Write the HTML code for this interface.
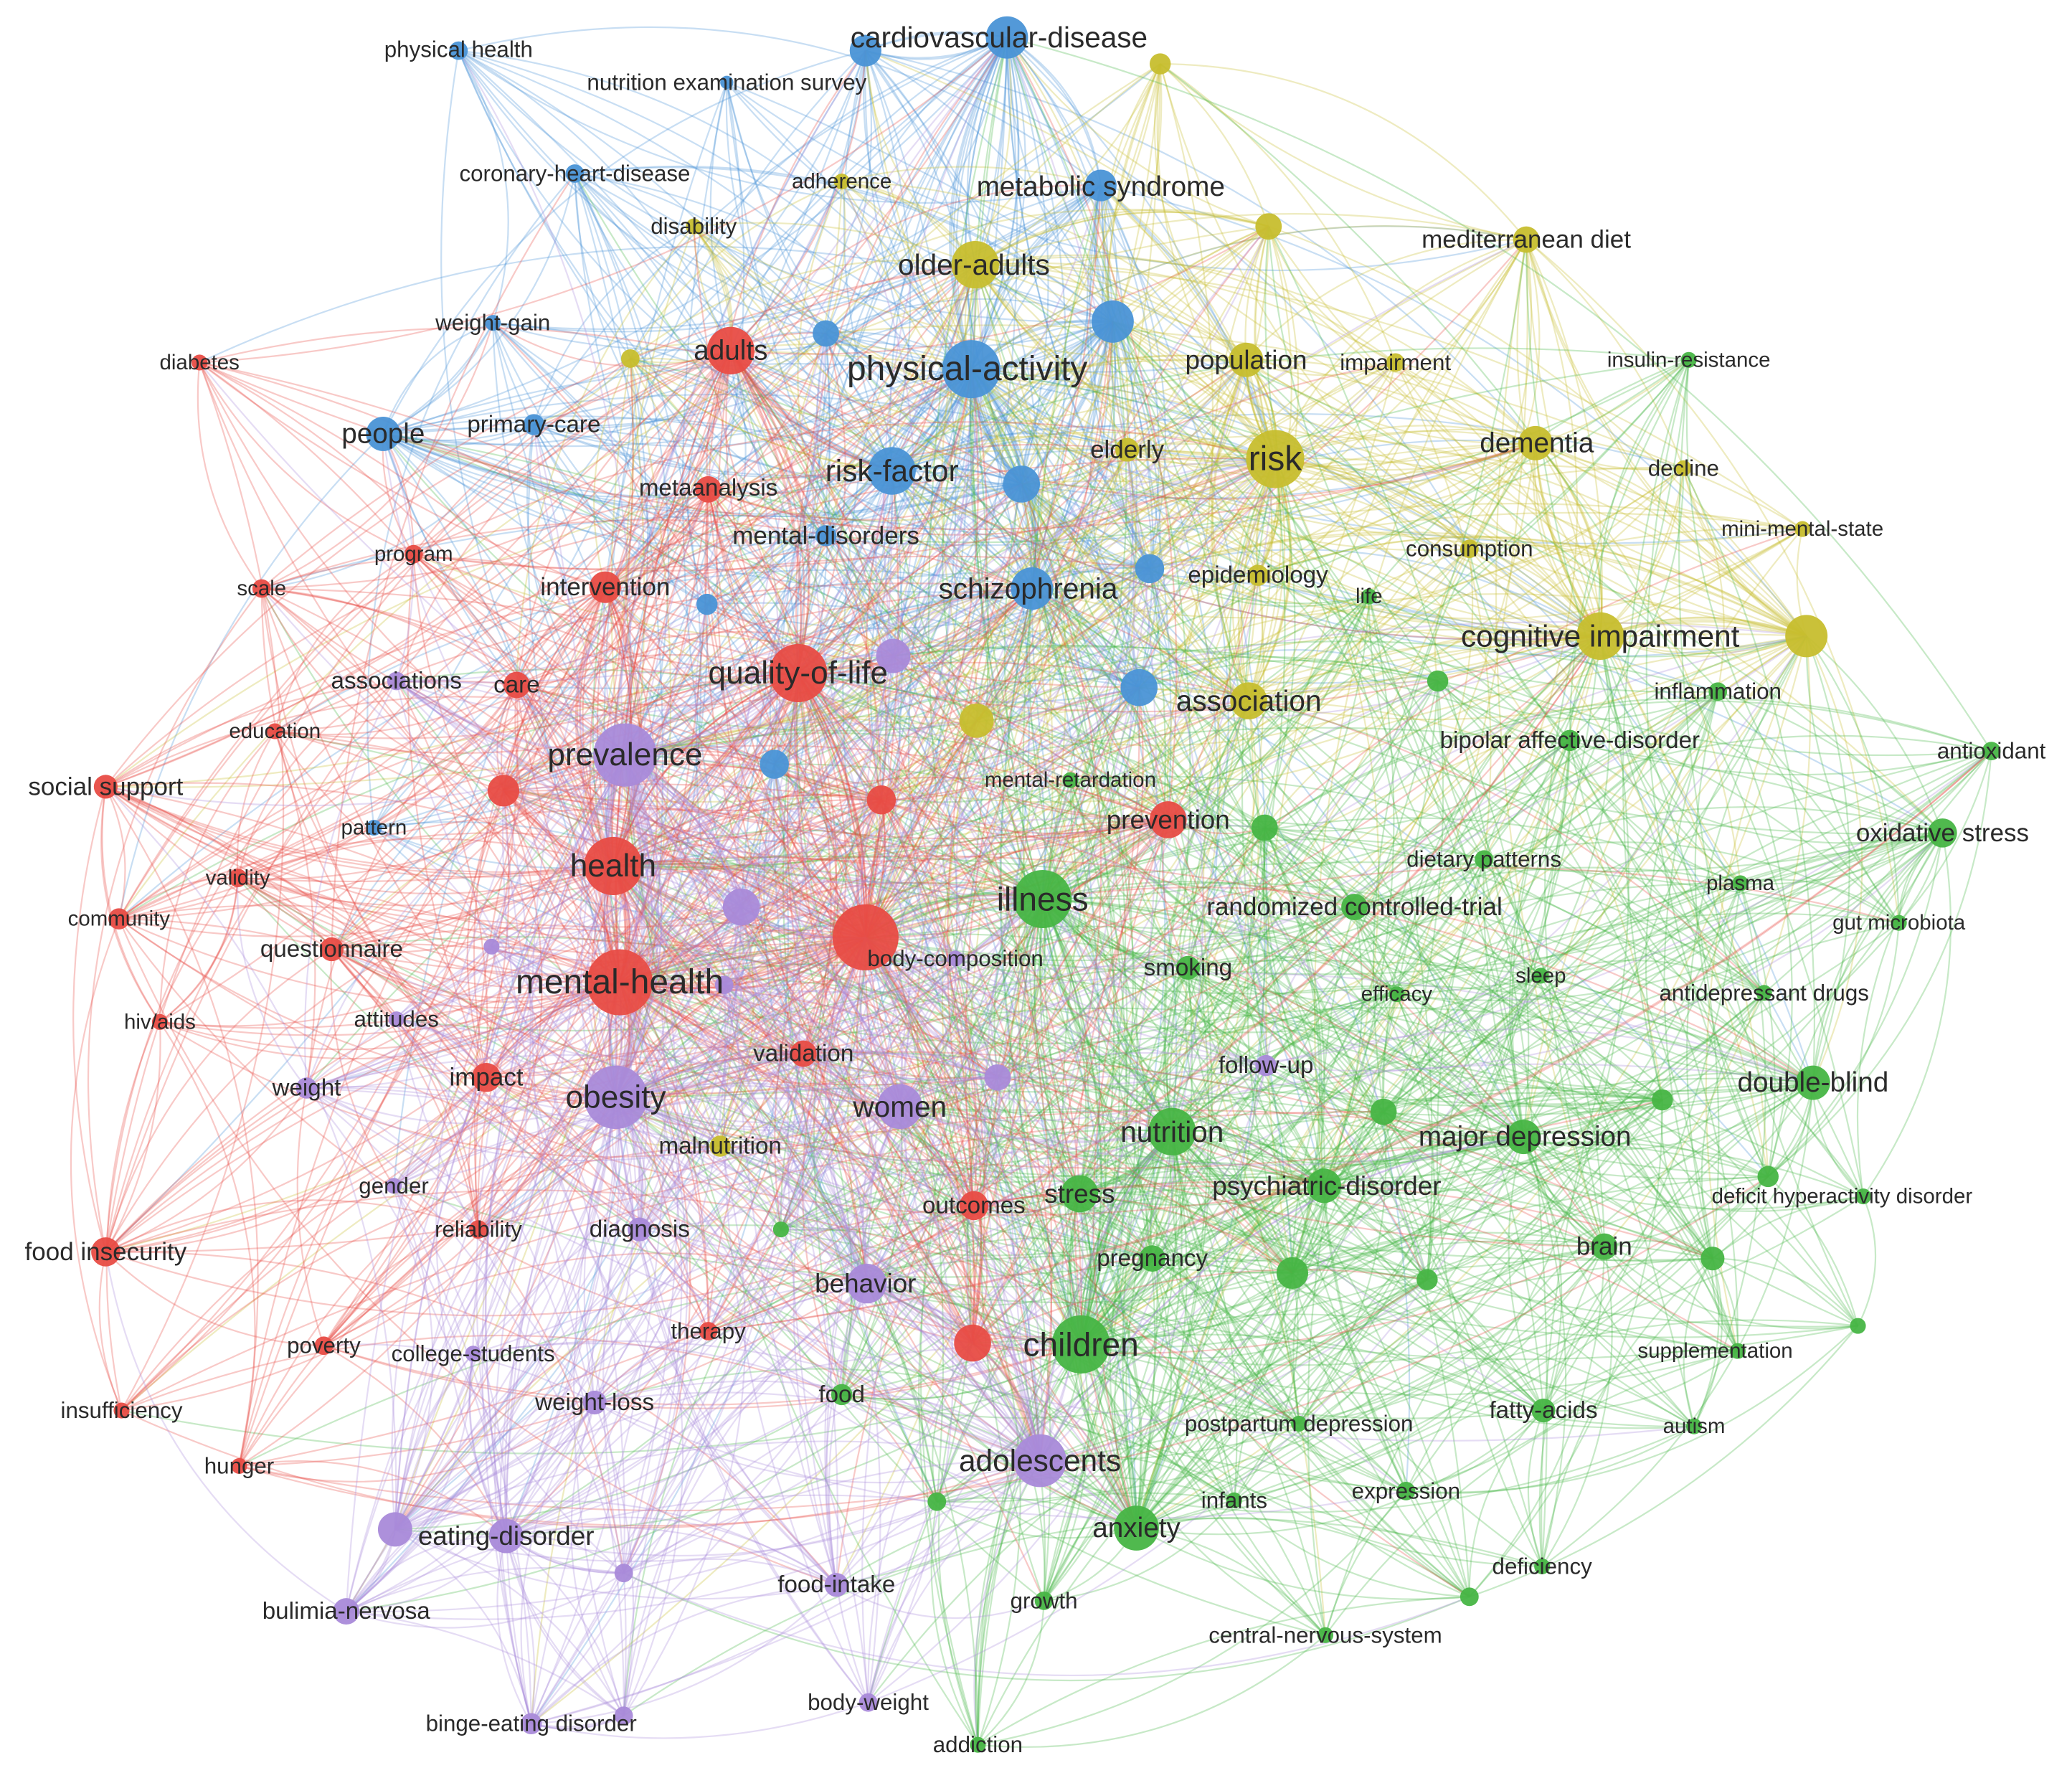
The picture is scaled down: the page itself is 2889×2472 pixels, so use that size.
<!DOCTYPE html>
<html><head><meta charset="utf-8">
<style>
html,body{margin:0;padding:0;background:#fff;}
svg{display:block;}
text{font-family:"Liberation Sans","DejaVu Sans",sans-serif;fill:#2a2a2a;text-anchor:middle;dominant-baseline:central;}
</style></head>
<body>
<svg id="s" width="2889" height="2472" viewBox="0 0 1568 1341" xmlns="http://www.w3.org/2000/svg">
<rect width="1568" height="1341" fill="#fff"/>
<g id="e" fill="none"></g>
<g id="n"></g>
<g id="t">
<text x="756" y="28" font-size="22">cardiovascular-disease</text>
<text x="347" y="37" font-size="17">physical health</text>
<text x="550" y="62" font-size="17">nutrition examination survey</text>
<text x="435" y="131" font-size="17">coronary-heart-disease</text>
<text x="833" y="141" font-size="21">metabolic syndrome</text>
<text x="373" y="244" font-size="17">weight-gain</text>
<text x="290" y="328" font-size="21">people</text>
<text x="404" y="321" font-size="18">primary-care</text>
<text x="732" y="279" font-size="26">physical-activity</text>
<text x="675" y="356" font-size="23">risk-factor</text>
<text x="625" y="405" font-size="19">mental-disorders</text>
<text x="778" y="445" font-size="22">schizophrenia</text>
<text x="283" y="626" font-size="16">pattern</text>
<text x="637" y="137" font-size="16">adherence</text>
<text x="525" y="171" font-size="17">disability</text>
<text x="737" y="200" font-size="22">older-adults</text>
<text x="1155" y="181" font-size="19">mediterranean diet</text>
<text x="943" y="272" font-size="20">population</text>
<text x="1056" y="274" font-size="17">impairment</text>
<text x="965" y="347" font-size="26">risk</text>
<text x="1163" y="335" font-size="21">dementia</text>
<text x="1274" y="354" font-size="17">decline</text>
<text x="853" y="340" font-size="19">elderly</text>
<text x="1364" y="400" font-size="16">mini-mental-state</text>
<text x="1112" y="415" font-size="17">consumption</text>
<text x="952" y="435" font-size="18">epidemiology</text>
<text x="1211" y="481" font-size="23">cognitive impairment</text>
<text x="945" y="530" font-size="22">association</text>
<text x="545" y="867" font-size="18">malnutrition</text>
<text x="1278" y="272" font-size="16">insulin-resistance</text>
<text x="1036" y="451" font-size="16">life</text>
<text x="1300" y="523" font-size="17">inflammation</text>
<text x="1188" y="560" font-size="18">bipolar affective-disorder</text>
<text x="1507" y="568" font-size="17">antioxidant</text>
<text x="810" y="590" font-size="16">mental-retardation</text>
<text x="1470" y="630" font-size="19">oxidative stress</text>
<text x="1123" y="650" font-size="17">dietary patterns</text>
<text x="1317" y="668" font-size="16">plasma</text>
<text x="789" y="680" font-size="25">illness</text>
<text x="1025" y="686" font-size="19">randomized controlled-trial</text>
<text x="1437" y="698" font-size="16">gut microbiota</text>
<text x="899" y="732" font-size="18">smoking</text>
<text x="1166" y="738" font-size="16">sleep</text>
<text x="1057" y="752" font-size="16">efficacy</text>
<text x="1335" y="751" font-size="17">antidepressant drugs</text>
<text x="1372" y="819" font-size="21">double-blind</text>
<text x="887" y="856" font-size="22">nutrition</text>
<text x="1154" y="860" font-size="21">major depression</text>
<text x="1004" y="897" font-size="20">psychiatric-disorder</text>
<text x="817" y="903" font-size="20">stress</text>
<text x="1394" y="905" font-size="16">deficit hyperactivity disorder</text>
<text x="1214" y="943" font-size="19">brain</text>
<text x="872" y="952" font-size="18">pregnancy</text>
<text x="818" y="1017" font-size="25">children</text>
<text x="1298" y="1022" font-size="16">supplementation</text>
<text x="637" y="1055" font-size="18">food</text>
<text x="983" y="1077" font-size="17">postpartum depression</text>
<text x="1168" y="1067" font-size="18">fatty-acids</text>
<text x="1282" y="1079" font-size="16">autism</text>
<text x="1064" y="1128" font-size="17">expression</text>
<text x="934" y="1135" font-size="17">infants</text>
<text x="860" y="1156" font-size="21">anxiety</text>
<text x="1167" y="1185" font-size="17">deficiency</text>
<text x="790" y="1211" font-size="17">growth</text>
<text x="1003" y="1237" font-size="17">central-nervous-system</text>
<text x="740" y="1320" font-size="17">addiction</text>
<text x="151" y="274" font-size="16">diabetes</text>
<text x="553" y="265" font-size="21">adults</text>
<text x="536" y="369" font-size="18">metaanalysis</text>
<text x="313" y="419" font-size="16">program</text>
<text x="198" y="445" font-size="16">scale</text>
<text x="458" y="444" font-size="19">intervention</text>
<text x="391" y="518" font-size="18">care</text>
<text x="604" y="509" font-size="24">quality-of-life</text>
<text x="208" y="553" font-size="16">education</text>
<text x="80" y="595" font-size="19">social support</text>
<text x="884" y="620" font-size="20">prevention</text>
<text x="180" y="664" font-size="16">validity</text>
<text x="464" y="655" font-size="24">health</text>
<text x="90" y="695" font-size="16">community</text>
<text x="723" y="725" font-size="17">body-composition</text>
<text x="251" y="718" font-size="18">questionnaire</text>
<text x="469" y="743" font-size="26">mental-health</text>
<text x="121" y="773" font-size="16">hiv/aids</text>
<text x="608" y="797" font-size="18">validation</text>
<text x="368" y="815" font-size="19">impact</text>
<text x="737" y="912" font-size="18">outcomes</text>
<text x="80" y="947" font-size="19">food insecurity</text>
<text x="362" y="930" font-size="17">reliability</text>
<text x="245" y="1018" font-size="17">poverty</text>
<text x="536" y="1007" font-size="17">therapy</text>
<text x="92" y="1067" font-size="17">insufficiency</text>
<text x="181" y="1109" font-size="17">hunger</text>
<text x="300" y="515" font-size="18">associations</text>
<text x="473" y="571" font-size="24">prevalence</text>
<text x="300" y="771" font-size="17">attitudes</text>
<text x="232" y="823" font-size="18">weight</text>
<text x="466" y="830" font-size="24">obesity</text>
<text x="681" y="837" font-size="22">women</text>
<text x="958" y="806" font-size="18">follow-up</text>
<text x="298" y="897" font-size="17">gender</text>
<text x="484" y="930" font-size="18">diagnosis</text>
<text x="655" y="971" font-size="20">behavior</text>
<text x="358" y="1024" font-size="17">college-students</text>
<text x="450" y="1061" font-size="18">weight-loss</text>
<text x="787" y="1105" font-size="23">adolescents</text>
<text x="383" y="1162" font-size="20">eating-disorder</text>
<text x="633" y="1199" font-size="18">food-intake</text>
<text x="262" y="1219" font-size="18">bulimia-nervosa</text>
<text x="657" y="1288" font-size="17">body-weight</text>
<text x="402" y="1304" font-size="17">binge-eating disorder</text>
</g>
</svg>
<script>
var C={b:"#4a93d6",y:"#c7be2e",g:"#47b544",r:"#e84c45",p:"#a98ad9"};
var N=[
[762,28,16,"b"],[655,38,12,"b"],[347,38,7,"b"],[550,62,5,"b"],[435,131,7,"b"],[833,140,12,"b"],[373,244,6,"b"],[290,328,13,"b"],[404,321,8,"b"],[735,279,22,"b"],[625,252,10,"b"],[842,243,16,"b"],[675,356,18,"b"],[773,366,14,"b"],[625,405,8,"b"],[535,457,8,"b"],[781,445,16,"b"],[870,430,11,"b"],[862,520,14,"b"],[586,578,11,"b"],[283,626,6,"b"],
[878,48,8,"y"],[637,137,6,"y"],[525,171,6,"y"],[738,200,18,"y"],[960,171,10,"y"],[1155,181,10,"y"],[477,271,7,"y"],[943,272,13,"y"],[1056,274,7,"y"],[965,347,22,"y"],[1162,335,13,"y"],[1274,354,6,"y"],[853,340,9,"y"],[1364,400,6,"y"],[1112,415,7,"y"],[952,435,8,"y"],[1211,481,18,"y"],[1367,481,16,"y"],[945,530,14,"y"],[739,545,13,"y"],[545,867,8,"y"],
[1278,272,6,"g"],[1036,451,6,"g"],[1088,515,8,"g"],[1300,523,7,"g"],[1188,560,8,"g"],[1507,568,7,"g"],[810,590,6,"g"],[957,626,10,"g"],[1470,630,11,"g"],[1123,650,7,"g"],[1317,668,6,"g"],[789,680,22,"g"],[1025,686,10,"g"],[1437,698,6,"g"],[899,732,9,"g"],[1166,738,6,"g"],[1057,752,6,"g"],[1335,751,6,"g"],[1372,819,13,"g"],[1047,841,10,"g"],[1258,832,8,"g"],[887,856,18,"g"],[1153,860,13,"g"],[1002,897,13,"g"],[817,903,14,"g"],[1338,890,8,"g"],[1410,905,6,"g"],[591,930,6,"g"],[1214,943,10,"g"],[872,952,10,"g"],[978,963,12,"g"],[1080,968,8,"g"],[1296,952,9,"g"],[1406,1003,6,"g"],[818,1017,22,"g"],[1315,1022,6,"g"],[637,1055,8,"g"],[983,1077,6,"g"],[1168,1067,9,"g"],[1282,1079,6,"g"],[1064,1128,7,"g"],[934,1135,6,"g"],[709,1136,7,"g"],[860,1156,17,"g"],[1167,1185,6,"g"],[1112,1208,7,"g"],[790,1211,7,"g"],[1003,1237,6,"g"],[740,1320,6,"g"],
[151,274,6,"r"],[553,265,18,"r"],[536,370,10,"r"],[313,419,7,"r"],[198,445,7,"r"],[458,444,12,"r"],[391,518,10,"r"],[604,509,22,"r"],[208,553,6,"r"],[80,595,9,"r"],[381,598,12,"r"],[667,605,11,"r"],[884,620,14,"r"],[180,664,7,"r"],[464,655,22,"r"],[90,695,8,"r"],[655,709,25,"r"],[251,718,9,"r"],[469,743,25,"r"],[121,773,6,"r"],[608,797,10,"r"],[368,815,11,"r"],[737,912,11,"r"],[80,947,11,"r"],[362,930,7,"r"],[245,1018,7,"r"],[536,1007,7,"r"],[736,1016,14,"r"],[92,1067,6,"r"],[181,1109,6,"r"],
[676,496,13,"p"],[300,515,7,"p"],[473,571,24,"p"],[561,686,14,"p"],[372,716,6,"p"],[300,771,6,"p"],[232,823,8,"p"],[466,830,24,"p"],[681,837,17,"p"],[755,815,10,"p"],[958,806,8,"p"],[723,725,6,"p"],[298,897,6,"p"],[484,930,9,"p"],[656,971,15,"p"],[358,1024,6,"p"],[450,1061,9,"p"],[787,1105,20,"p"],[299,1157,13,"p"],[383,1162,13,"p"],[472,1190,7,"p"],[633,1199,9,"p"],[262,1219,10,"p"],[657,1288,7,"p"],[402,1304,8,"p"],[472,1298,7,"p"],[548,745,7,"p"]
];
var seed=12345;function rnd(){seed=(seed*1103515245+12345)%2147483648;return seed/2147483648;}
var eg=document.getElementById("e"),ng=document.getElementById("n");
var out=[];
for(var i=0;i<N.length;i++){
 var a=N[i],k=Math.round(a[2]*1.5)+3,ws=[],tot=0;
 for(var j=0;j<N.length;j++){if(j==i){ws.push(0);continue;}
  var b=N[j],dx=b[0]-a[0],dy=b[1]-a[1],d=Math.sqrt(dx*dx+dy*dy);
  var w=b[2]*b[2]*(b[3]==a[3]?3:1)/Math.pow(d+150,1.3);ws.push(w);tot+=w;}
 for(var m=0;m<k;m++){var r=rnd()*tot,j=0;while(j<N.length-1&&r>ws[j]){r-=ws[j];j++;}
  var b=N[j],dx=b[0]-a[0],dy=b[1]-a[1];var s=(rnd()<0.5?1:-1)*(0.12+0.12*rnd());
  var cx=(a[0]+b[0])/2-dy*s,cy=(a[1]+b[1])/2+dx*s;
  out.push('<path d="M'+a[0]+' '+a[1]+'Q'+cx.toFixed(1)+' '+cy.toFixed(1)+' '+b[0]+' '+b[1]+'" stroke="'+C[a[3]]+'" stroke-opacity="0.3" stroke-width="1.2"/>');}
}
eg.innerHTML=out.join("");
var c=[];for(var i=0;i<N.length;i++){var a=N[i];c.push('<circle cx="'+a[0]+'" cy="'+a[1]+'" r="'+a[2]+'" fill="'+C[a[3]]+'" fill-opacity="0.95"/>');}
ng.innerHTML=c.join("");
</script>
</body></html>
